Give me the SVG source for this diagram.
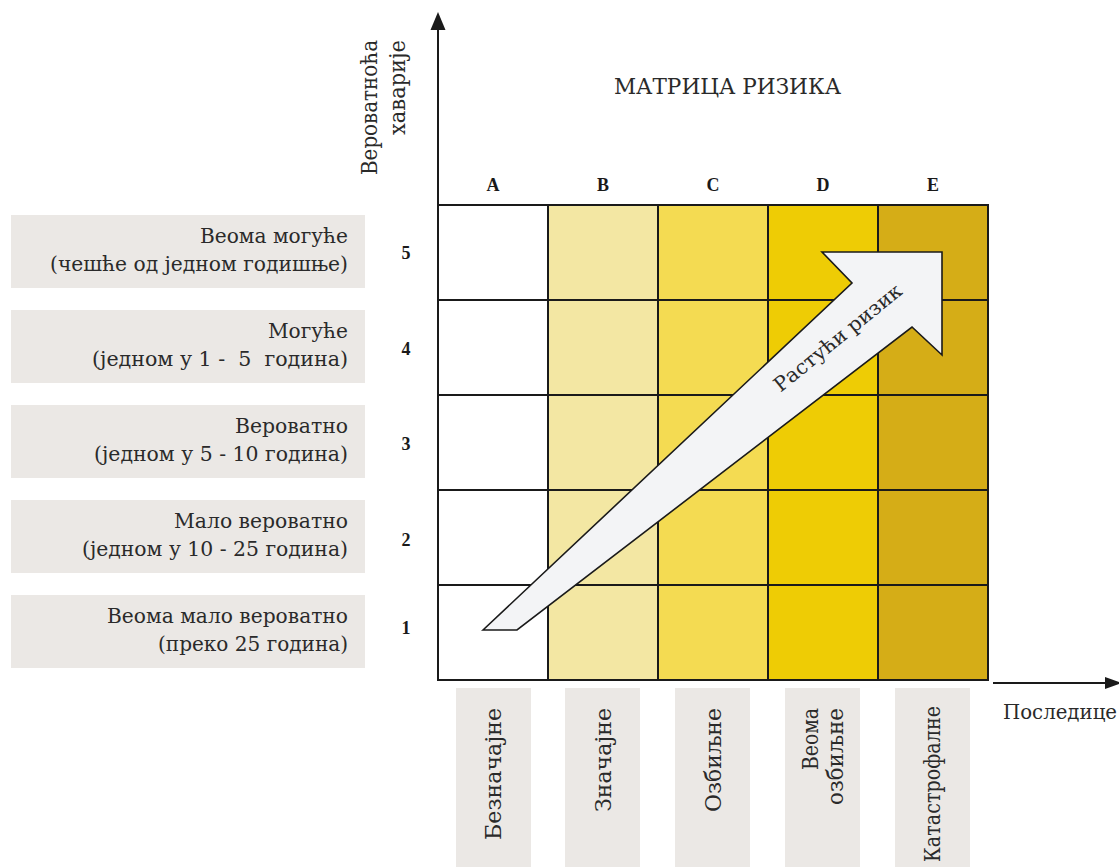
<svg xmlns="http://www.w3.org/2000/svg" width="1119" height="867" viewBox="0 0 1119 867">
  <defs>
    <style>
      .serif { font-family: "DejaVu Serif", "Liberation Serif", serif; fill: #2a2a2a; }
      .latin { font-family: "Liberation Serif", "Times New Roman", serif; }
      .lbl { font-size: 20px; text-anchor: end; }
      .num { font-size: 18px; font-weight: bold; text-anchor: middle; fill: #1a1a1a; }
      .col { font-size: 18px; font-weight: bold; text-anchor: middle; fill: #1a1a1a; }
      .vlbl { font-size: 23px; text-anchor: end; }
      .box { fill: #ebe8e5; }
      .cell { stroke: #1a1a1a; stroke-width: 2; }
      .axis { stroke: #1a1a1a; stroke-width: 2; fill: none; }
      .head { fill: #1a1a1a; }
    </style>
  </defs>
  <rect width="1119" height="867" fill="#ffffff"/>

  <!-- title -->
  <text id="title" class="serif" x="614" y="94" font-size="22" textLength="227" lengthAdjust="spacingAndGlyphs" fill="#333">МАТРИЦА РИЗИКА</text>

  <!-- probability axis caption -->
  <g id="y-caption" class="serif">
    <text class="vlbl" transform="translate(377,40) rotate(-90)" textLength="135" lengthAdjust="spacingAndGlyphs">Вероватноћа</text>
    <text class="vlbl" transform="translate(405,40) rotate(-90)" textLength="95" lengthAdjust="spacingAndGlyphs">хаварије</text>
  </g>

  <!-- likelihood descriptions -->
  <g id="row-5">
    <rect class="box" x="11" y="215" width="354" height="73"/>
    <text class="serif lbl" x="348" y="243" textLength="148" lengthAdjust="spacingAndGlyphs">Веома могуће</text>
    <text class="serif lbl" x="348" y="271" textLength="298" lengthAdjust="spacingAndGlyphs">(чешће од једном годишње)</text>
    <text class="latin num" x="406" y="259">5</text>
  </g>
  <g id="row-4">
    <rect class="box" x="11" y="310" width="354" height="73"/>
    <text class="serif lbl" x="348" y="338" textLength="80" lengthAdjust="spacingAndGlyphs">Могуће</text>
    <text class="serif lbl" x="348" y="366" textLength="256" lengthAdjust="spacingAndGlyphs" xml:space="preserve">(једном у 1 -  5  година)</text>
    <text class="latin num" x="406" y="355">4</text>
  </g>
  <g id="row-3">
    <rect class="box" x="11" y="405" width="354" height="73"/>
    <text class="serif lbl" x="348" y="433" textLength="113" lengthAdjust="spacingAndGlyphs">Вероватно</text>
    <text class="serif lbl" x="348" y="461" textLength="254" lengthAdjust="spacingAndGlyphs">(једном у 5 - 10 година)</text>
    <text class="latin num" x="406" y="450">3</text>
  </g>
  <g id="row-2">
    <rect class="box" x="11" y="500" width="354" height="73"/>
    <text class="serif lbl" x="348" y="528" textLength="174" lengthAdjust="spacingAndGlyphs">Мало вероватно</text>
    <text class="serif lbl" x="348" y="556" textLength="266" lengthAdjust="spacingAndGlyphs">(једном у 10 - 25 година)</text>
    <text class="latin num" x="406" y="546">2</text>
  </g>
  <g id="row-1">
    <rect class="box" x="11" y="595" width="354" height="73"/>
    <text class="serif lbl" x="348" y="623" textLength="241" lengthAdjust="spacingAndGlyphs">Веома мало вероватно</text>
    <text class="serif lbl" x="348" y="651" textLength="190" lengthAdjust="spacingAndGlyphs">(преко 25 година)</text>
    <text class="latin num" x="406" y="634">1</text>
  </g>

  <!-- matrix columns -->
  <g id="col-A">
    <text class="latin col" x="493" y="191">A</text>
    <rect class="cell" x="438" y="205" width="110" height="95" fill="#ffffff"/>
    <rect class="cell" x="438" y="300" width="110" height="95" fill="#ffffff"/>
    <rect class="cell" x="438" y="395" width="110" height="95" fill="#ffffff"/>
    <rect class="cell" x="438" y="490" width="110" height="95" fill="#ffffff"/>
    <rect class="cell" x="438" y="585" width="110" height="95" fill="#ffffff"/>
    <rect class="box" x="456" y="688" width="75" height="190"/>
    <text class="serif vlbl" transform="translate(501,708) rotate(-90)" textLength="132" lengthAdjust="spacingAndGlyphs">Безначајне</text>
  </g>
  <g id="col-B">
    <text class="latin col" x="603" y="191">B</text>
    <rect class="cell" x="548" y="205" width="110" height="95" fill="#f3e7a3"/>
    <rect class="cell" x="548" y="300" width="110" height="95" fill="#f3e7a3"/>
    <rect class="cell" x="548" y="395" width="110" height="95" fill="#f3e7a3"/>
    <rect class="cell" x="548" y="490" width="110" height="95" fill="#f3e7a3"/>
    <rect class="cell" x="548" y="585" width="110" height="95" fill="#f3e7a3"/>
    <rect class="box" x="565" y="688" width="75" height="190"/>
    <text class="serif vlbl" transform="translate(611,708) rotate(-90)" textLength="104" lengthAdjust="spacingAndGlyphs">Значајне</text>
  </g>
  <g id="col-C">
    <text class="latin col" x="713" y="191">C</text>
    <rect class="cell" x="658" y="205" width="110" height="95" fill="#f4db52"/>
    <rect class="cell" x="658" y="300" width="110" height="95" fill="#f4db52"/>
    <rect class="cell" x="658" y="395" width="110" height="95" fill="#f4db52"/>
    <rect class="cell" x="658" y="490" width="110" height="95" fill="#f4db52"/>
    <rect class="cell" x="658" y="585" width="110" height="95" fill="#f4db52"/>
    <rect class="box" x="675" y="688" width="75" height="190"/>
    <text class="serif vlbl" transform="translate(721,708) rotate(-90)" textLength="104" lengthAdjust="spacingAndGlyphs">Озбиљне</text>
  </g>
  <g id="col-D">
    <text class="latin col" x="823" y="191">D</text>
    <rect class="cell" x="768" y="205" width="110" height="95" fill="#eecc05"/>
    <rect class="cell" x="768" y="300" width="110" height="95" fill="#eecc05"/>
    <rect class="cell" x="768" y="395" width="110" height="95" fill="#eecc05"/>
    <rect class="cell" x="768" y="490" width="110" height="95" fill="#eecc05"/>
    <rect class="cell" x="768" y="585" width="110" height="95" fill="#eecc05"/>
    <rect class="box" x="785" y="688" width="75" height="190"/>
    <text class="serif vlbl" transform="translate(818,708) rotate(-90)" textLength="62" lengthAdjust="spacingAndGlyphs">Веома</text>
    <text class="serif vlbl" transform="translate(843,708) rotate(-90)" textLength="97" lengthAdjust="spacingAndGlyphs">озбиљне</text>
  </g>
  <g id="col-E">
    <text class="latin col" x="933" y="191">E</text>
    <rect class="cell" x="878" y="205" width="110" height="95" fill="#d5ad17"/>
    <rect class="cell" x="878" y="300" width="110" height="95" fill="#d5ad17"/>
    <rect class="cell" x="878" y="395" width="110" height="95" fill="#d5ad17"/>
    <rect class="cell" x="878" y="490" width="110" height="95" fill="#d5ad17"/>
    <rect class="cell" x="878" y="585" width="110" height="95" fill="#d5ad17"/>
    <rect class="box" x="895" y="688" width="75" height="190"/>
    <text class="serif vlbl" transform="translate(940,706) rotate(-90)" textLength="156" lengthAdjust="spacingAndGlyphs">Катастрофалне</text>
  </g>

  <!-- rising risk arrow -->
  <g id="risk-arrow">
    <polygon points="483,630 852,283 822,252 942,252 942,355 912,327 517,630" fill="#f3f4f6" stroke="#1a1a1a" stroke-width="1.6" stroke-linejoin="miter"/>
    <text class="serif" font-size="20" text-anchor="middle" transform="translate(842,343) rotate(-39)" textLength="158" lengthAdjust="spacingAndGlyphs" fill="#333">Растући ризик</text>
  </g>

  <!-- axes -->
  <g id="connectors">
    <line class="axis" x1="438" y1="680" x2="438" y2="26"/>
    <polygon class="head" points="438,12 430.5,30 445.5,30"/>
    <line class="axis" x1="993" y1="683" x2="1108" y2="683"/>
    <polygon class="head" points="1122,683 1105,677 1105,689"/>
  </g>
  <text id="x-caption" class="serif" x="1003" y="719" font-size="20" textLength="114" lengthAdjust="spacingAndGlyphs">Последице</text>
</svg>
